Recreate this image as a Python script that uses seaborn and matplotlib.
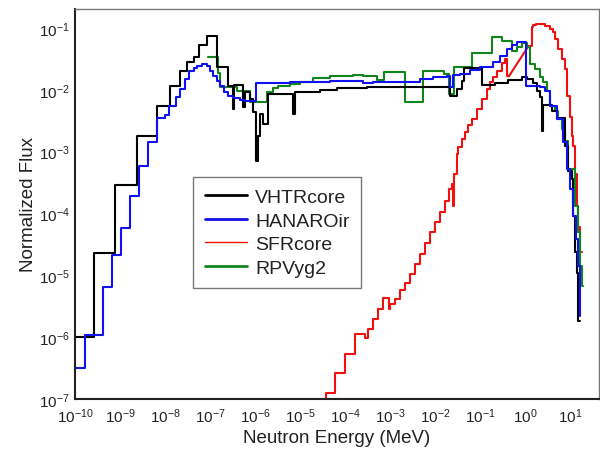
import matplotlib
matplotlib.use("Agg")
import matplotlib.pyplot as plt
from matplotlib import font_manager
from matplotlib.lines import Line2D
from matplotlib.ticker import LogLocator, FuncFormatter, NullLocator
import numpy as np
import pandas as pd
import seaborn as sns

# ---------------- data (bin lower edges + final upper edge, flux per bin) ----------------
vhtr_energy = [1e-10, 2.7e-10, 7.7e-10, 2.35e-9, 6.7e-9, 1.29e-8, 2.15e-8, 3.13e-8, 4.4e-8,
               5.78e-8, 8.45e-8, 1.45e-7, 2.55e-7, 3.24e-7, 3.5e-7, 5.4e-7, 5.85e-7, 7.7e-7,
               9.2e-7, 1.05e-6, 1.14e-6, 1.29e-6, 1.53e-6, 1.98e-6, 6.99e-6, 7.55e-6, 2.78e-5,
               6.5e-5, 3.03e-4, 2.15e-2, 3.03e-2, 3.9e-2, 4.5e-2, 0.111, 0.215, 0.419, 0.845,
               1.11, 1.53, 1.82, 2.15, 2.33, 2.51, 3.92, 5.06, 7.74, 9.03, 10.9, 11.5, 12.9,
               14.1, 15.1, 17.0]
vhtr_flux = [1.0e-6, 2.26e-5, 2.9e-4, 1.77e-3, 5.4e-3, 1.16e-2, 1.99e-2, 2.79e-2, 3.36e-2,
             5.3e-2, 7.3e-2, 2.34e-2, 1.15e-2, 4.9e-3, 1.2e-2, 5.3e-3, 9.2e-3, 7.1e-3,
             4.4e-3, 7.0e-4, 1.79e-3, 4.05e-3, 2.8e-3, 8.55e-3, 4.05e-3, 9.2e-3, 9.9e-3,
             1.06e-2, 1.1e-2, 8.0e-3, 1.03e-2, 1.39e-2, 2.25e-2, 1.2e-2, 1.31e-2, 1.44e-2,
             1.61e-2, 1.52e-2, 1.31e-2, 9.7e-3, 7.6e-3, 2.18e-3, 5.7e-3, 4.54e-3, 3.5e-3,
             1.24e-3, 4.85e-4, 3.6e-4, 9.2e-5, 2.35e-5, 1.11e-5, 1.84e-6]

hanaro_energy = [1e-10, 1.63e-10, 4.13e-10, 6.55e-10, 1.04e-9, 1.64e-9, 2.58e-9, 4.13e-9,
                 6.55e-9, 1e-8, 1.25e-8, 1.76e-8, 2.15e-8, 2.78e-8, 3.41e-8, 4.41e-8, 5.14e-8,
                 6.55e-8, 8.45e-8, 1e-7, 1.18e-7, 1.41e-7, 1.67e-7, 2.05e-7, 2.55e-7, 3.24e-7,
                 4.64e-7, 6.0e-7, 1.05e-6, 6.0e-6, 4.64e-5, 2.55e-4, 4.19e-4, 4.64e-3, 9.0e-3,
                 1.82e-2, 2.15e-2, 2.51e-2, 3.6e-2, 6.0e-2, 0.1, 0.195, 0.278, 0.392, 0.514,
                 0.655, 1.05, 2.15, 2.78, 3.6, 5.06, 7.1, 8.45, 10.0, 11.8, 13.6, 15.3, 16.3, 17.0]
hanaro_flux = [3.15e-7, 1.08e-6, 6.5e-6, 2.12e-5, 5.74e-5, 1.89e-4, 5.85e-4, 1.41e-3, 3.46e-3,
               3.9e-3, 5.53e-3, 7.57e-3, 1.03e-2, 1.5e-2, 2.01e-2, 2.23e-2, 2.45e-2, 2.61e-2,
               2.4e-2, 2.04e-2, 1.69e-2, 1.37e-2, 1.15e-2, 9.3e-3, 8.0e-3, 7.3e-3, 6.9e-3,
               6.7e-3, 1.29e-2, 1.34e-2, 1.4e-2, 1.29e-2, 1.35e-2, 1.5e-2, 1.59e-2, 1.69e-2,
               1.13e-2, 1.73e-2, 1.8e-2, 2.09e-2, 2.31e-2, 2.79e-2, 3.52e-2, 4.57e-2, 5.3e-2,
               6.0e-2, 1.14e-2, 1.1e-2, 9.57e-3, 5.5e-3, 3.37e-3, 1.41e-3, 5.2e-4, 2.48e-4,
               9.2e-5, 3.86e-5, 1.43e-5, 2.2e-6]

rpv_energy = [9.17e-8, 1.53e-7, 1.67e-7, 3.98e-7, 7.74e-7, 1.82e-6, 2.55e-6, 3.3e-6, 6.0e-6,
              1e-5, 1.98e-5, 4.64e-5, 1.53e-4, 2.55e-4, 5.06e-4, 7.36e-4, 2.15e-3, 5.5e-3,
              1.58e-2, 2.0e-2, 2.64e-2, 6.55e-2, 0.182, 0.303, 0.514, 0.655, 0.857, 1.11, 1.29,
              1.67, 2.15, 2.55, 3.03, 3.6, 4.64, 5.5, 6.53, 7.74, 9.17, 12.9, 15.3, 16.7, 18.2,
              19.0]
rpv_flux = [3.36e-2, 1.87e-2, 1.1e-2, 9.66e-3, 6.28e-3, 9.3e-3, 1.06e-2, 1.16e-2, 1.24e-2,
            1.35e-2, 1.53e-2, 1.69e-2, 1.73e-2, 1.65e-2, 1.46e-2, 1.94e-2, 6.41e-3, 1.98e-2,
            1.8e-2, 8.55e-3, 2.31e-2, 3.94e-2, 7.08e-2, 6.23e-2, 4.25e-2, 4.88e-2, 5.71e-2,
            4.93e-2, 2.61e-2, 2.17e-2, 1.59e-2, 1.34e-2, 9.57e-3, 5.5e-3, 4.6e-3, 3.37e-3,
            2.32e-3, 1.5e-3, 5.2e-4, 1.33e-4, 4.94e-5, 1.43e-5, 6.76e-6]

# SFR core: stepped low-energy part, a straight ramp, stepped high-energy part
sfr_low_energy = [1.67e-5, 3.78e-5, 6.0e-5, 1e-4, 1.67e-4, 2.78e-4, 3.3e-4, 4.26e-4, 5.5e-4,
                  6.99e-4, 9.27e-4, 1e-3, 1.29e-3, 1.67e-3, 2.15e-3, 2.78e-3, 3.6e-3, 4.64e-3,
                  6.0e-3, 7.74e-3, 1e-2, 1.29e-2, 1.67e-2, 2.05e-2, 2.33e-2, 2.51e-2, 2.71e-2,
                  3.03e-2, 3.3e-2, 3.88e-2, 4.64e-2, 5.5e-2, 6.55e-2, 8.45e-2, 0.109, 0.141,
                  0.167, 0.198, 0.235, 0.303, 0.36, 0.408, 0.441]
sfr_low_flux = [3.2e-8, 1.24e-7, 2.61e-7, 5.3e-7, 1.12e-6, 9.64e-7, 1.35e-6, 1.95e-6, 2.84e-6,
                4.27e-6, 2.84e-6, 3.42e-6, 4.12e-6, 5.77e-6, 7.48e-6, 1.04e-5, 1.52e-5, 2.2e-5,
                3.32e-5, 5.0e-5, 7.26e-5, 1.05e-4, 1.59e-4, 2.48e-4, 2.99e-4, 1.33e-4, 4.34e-4,
                9.14e-4, 1.19e-3, 1.6e-3, 2.07e-3, 2.69e-3, 3.37e-3, 4.89e-3, 7.1e-3, 1.03e-2,
                1.32e-2, 1.59e-2, 2.04e-2, 2.72e-2, 3.15e-2, 1.67e-2]
sfr_ramp_energy = [0.441, 1.2]
sfr_ramp_flux = [1.67e-2, 5.12e-2]
sfr_high_energy = [1.2, 1.41, 1.53, 1.75, 2.78, 3.6, 4.26, 4.64, 5.5, 6.47, 7.74, 8.45, 10.0,
                   10.9, 11.8, 12.6, 14.1, 15.3, 16.7, 18.0]
sfr_high_flux = [5.12e-2, 0.1026, 0.112, 0.116, 0.109, 9.64e-2, 8.52e-2, 6.64e-2, 4.57e-2,
                 3.15e-2, 2.17e-2, 8.04e-3, 3.63e-3, 1.81e-3, 1.24e-3, 4.34e-4, 1.33e-4,
                 5.96e-5, 2.37e-5]

series_names = ["VHTRcore", "HANAROir", "SFRcore", "RPVyg2"]
series_colors = ["#000000", "#1010f0", "#f01010", "#10861a"]

# ---------------- style ----------------
sns.set_theme(style="white")
available = {f.name for f in font_manager.fontManager.ttflist}
main_font = "Liberation Sans" if "Liberation Sans" in available else "DejaVu Sans"
tick_font = "Liberation Sans Narrow" if "Liberation Sans Narrow" in available else main_font
plt.rcParams["font.family"] = [main_font, "DejaVu Sans"]
plt.rcParams["mathtext.fontset"] = "custom"
plt.rcParams["mathtext.rm"] = tick_font
plt.rcParams["mathtext.default"] = "regular"

fig = plt.figure(figsize=(6.0, 4.52), dpi=100)
ax = fig.add_axes([75 / 600, 1 - 400 / 452, 524 / 600, 390 / 452])


def step_frame(energy, flux):
    return pd.DataFrame({"E": energy, "flux": list(flux) + [flux[-1]]})


lw = 1.5
step_kw = dict(estimator=None, sort=False, drawstyle="steps-post", linewidth=lw, legend=False)

sns.lineplot(data=step_frame(sfr_low_energy, sfr_low_flux), x="E", y="flux", ax=ax,
             color=series_colors[2], **step_kw)
sns.lineplot(data=pd.DataFrame({"E": sfr_ramp_energy, "flux": sfr_ramp_flux}), x="E", y="flux",
             ax=ax, color=series_colors[2], estimator=None, sort=False, linewidth=lw, legend=False)
sns.lineplot(data=step_frame(sfr_high_energy, sfr_high_flux), x="E", y="flux", ax=ax,
             color=series_colors[2], **step_kw)
sns.lineplot(data=step_frame(rpv_energy, rpv_flux), x="E", y="flux", ax=ax,
             color=series_colors[3], **step_kw)
sns.lineplot(data=step_frame(vhtr_energy, vhtr_flux), x="E", y="flux", ax=ax,
             color=series_colors[0], **step_kw)
sns.lineplot(data=step_frame(hanaro_energy, hanaro_flux), x="E", y="flux", ax=ax,
             color=series_colors[1], **step_kw)

ax.set_xscale("log")
ax.set_yscale("log")
ax.set_xlim(1e-10, 10 ** 1.644)
ax.set_ylim(1e-7, 10 ** -0.693)

ax.xaxis.set_major_locator(LogLocator(base=10, numticks=20))
ax.yaxis.set_major_locator(LogLocator(base=10, numticks=20))
ax.xaxis.set_minor_locator(NullLocator())
ax.yaxis.set_minor_locator(NullLocator())
fmt = FuncFormatter(lambda v, p: r"$10^{%d}$" % int(round(np.log10(v))))
ax.xaxis.set_major_formatter(fmt)
ax.yaxis.set_major_formatter(fmt)
ax.tick_params(axis="both", which="major", direction="in", length=7, width=1,
               color="#333333", labelsize=11, labelcolor="#222222", pad=5)
ax.tick_params(axis="y", pad=4)

for side in ["left", "bottom"]:
    ax.spines[side].set_color("#222222")
    ax.spines[side].set_linewidth(1.5)
for side in ["top", "right"]:
    ax.spines[side].set_color("#777777")
    ax.spines[side].set_linewidth(1.0)

ax.set_xlabel("Neutron Energy (MeV)", fontsize=13.5, color="#222222", labelpad=3)
ax.set_ylabel("Normalized Flux", fontsize=13.5, color="#222222", labelpad=1)

handles = [Line2D([], [], color=series_colors[0], lw=2.0),
           Line2D([], [], color=series_colors[1], lw=2.0),
           Line2D([], [], color=series_colors[2], lw=1.0),
           Line2D([], [], color=series_colors[3], lw=2.0)]
leg = ax.legend(handles, series_names, loc="upper left",
                bbox_to_anchor=((193 - 75) / 524, (400 - 178) / 390),
                fontsize=14, frameon=True, fancybox=False, shadow=False,
                borderpad=0.6, labelspacing=0.3, handlelength=2.2, handletextpad=0.4,
                borderaxespad=0.0)
leg.get_frame().set_edgecolor("#555555")
leg.get_frame().set_linewidth(1.0)
for t in leg.get_texts():
    t.set_color("#222222")

fig.savefig("out.png", dpi=100)
